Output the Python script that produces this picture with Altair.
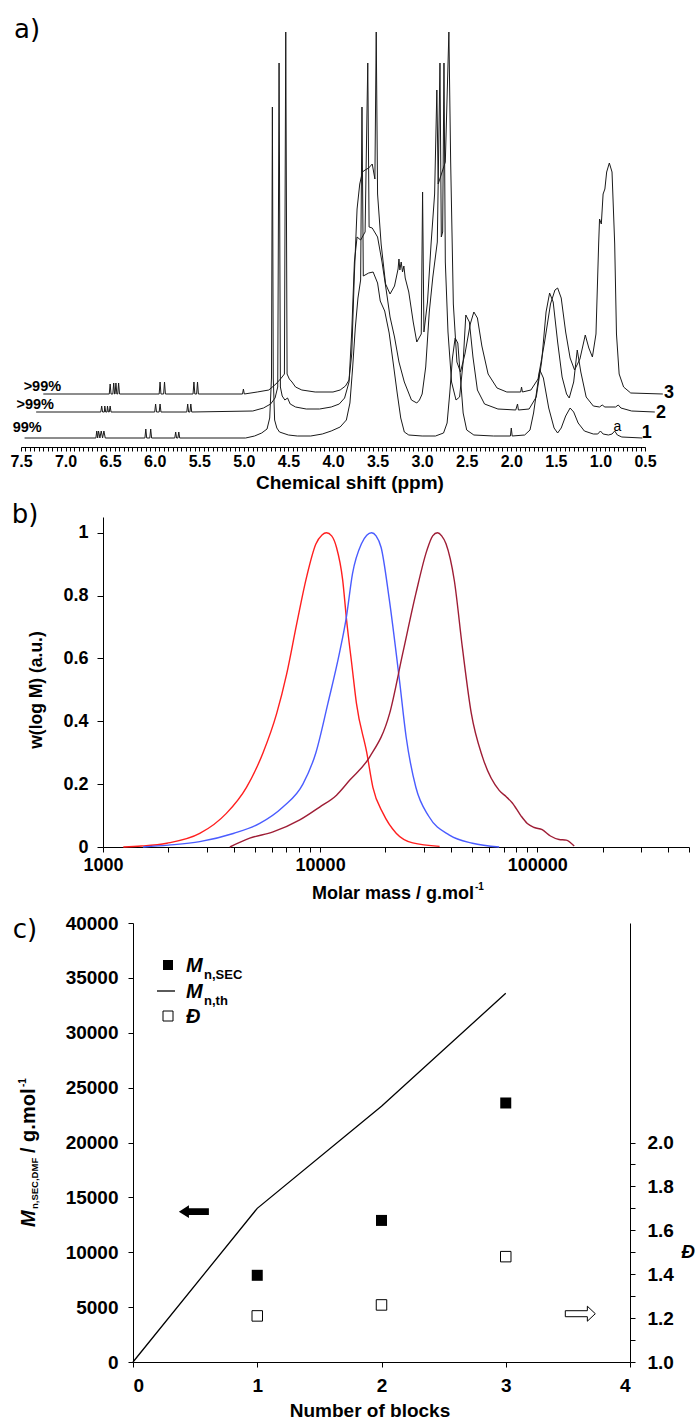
import altair as alt
import pandas as pd

FONT = "Liberation Sans"
FONT_W = "DejaVu Sans"

# ---------------- a) 1H NMR spectra (ppm, intensity above own baseline) ----------------
t1 = [(7.46,0),(6.66,0),(6.65,7),(6.64,0),(6.63,7),(6.615,0),(6.60,7),(6.585,0),(6.57,7),(6.555,0),
      (6.11,0),(6.10,9),(6.09,0),(6.055,0),(6.045,9),(6.035,0),
      (5.775,0),(5.765,6),(5.755,0),(5.74,0),(5.73,6),(5.72,0),
      (4.98,0),(4.88,2),(4.80,5),(4.74,9),(4.71,20),(4.69,60),(4.68,331),(4.67,60),(4.655,18),(4.63,10),
      (4.60,6),(4.50,3),(4.40,2),(4.25,2),(4.12,4),(4.02,7),(3.92,11),(3.85,18),(3.81,35),(3.78,70),
      (3.75,110),(3.72,140),(3.69,158),(3.675,331),(3.66,162),(3.60,165),(3.55,166),(3.50,155),
      (3.47,137),(3.42,127),(3.37,105),(3.32,72),(3.28,45),(3.24,20),(3.20,6),(3.15,3),
      (3.00,2),(2.85,2),(2.76,5),(2.72,15),(2.69,45),(2.66,80),(2.63,100),
      (2.60,95),(2.57,60),(2.54,25),(2.50,8),(2.42,3),(2.20,2),(2.01,2),(2.00,10),(1.99,2),(1.85,3),
      (1.79,8),(1.75,25),(1.71,50),(1.68,68),(1.64,60),(1.58,30),(1.52,10),(1.48,5),(1.44,10),(1.39,22),
      (1.34,30),(1.30,26),(1.25,15),(1.18,7),(1.08,4),(1.03,4),(1.00,7),(0.97,4),(0.91,3),(0.87,4),
      (0.84,7),(0.81,3),(0.76,1),(0.53,0)]
t2 = [(7.33,0),(6.605,0),(6.595,6),(6.585,0),(6.565,0),(6.56,6),(6.55,0),(6.535,0),(6.53,6),(6.52,0),
      (6.51,0),(6.50,6),(6.49,0),
      (6.00,0),(5.99,8),(5.98,0),(5.95,0),(5.94,8),(5.93,0),(5.64,0),(5.63,8),(5.62,0),(5.605,0),
      (5.595,8),(5.585,0),
      (4.90,1),(4.78,4),(4.70,8),(4.65,14),(4.62,25),(4.605,349),(4.59,25),(4.57,16),(4.54,12),(4.51,14),
      (4.48,8),(4.42,5),(4.30,3),(4.15,3),(4.02,5),(3.93,8),(3.87,14),(3.82,30),(3.79,80),(3.76,150),
      (3.73,175),(3.69,172),(3.64,180),(3.61,349),(3.595,185),(3.56,184),(3.50,175),(3.45,150),
      (3.40,120),(3.36,95),(3.31,75),(3.26,50),(3.20,30),(3.12,12),(3.06,9),(3.03,12),(3.00,18),
      (2.96,45),(2.92,100),(2.88,135),(2.83,170),(2.80,349),(2.785,175),(2.77,180),(2.755,349),
      (2.74,150),(2.71,80),(2.67,30),(2.62,12),(2.58,15),(2.54,50),(2.51,97),(2.47,90),(2.43,55),
      (2.38,22),(2.30,8),(2.15,3),(1.95,2),(1.93,8),(1.92,2),(1.80,3),(1.72,15),(1.66,50),(1.61,100),
      (1.57,119),(1.53,110),(1.48,70),(1.43,35),(1.38,18),(1.35,14),(1.30,30),(1.26,62),(1.22,40),
      (1.16,15),(1.08,6),(1.01,5),(0.98,7),(0.95,5),(0.83,5),(0.80,7),(0.77,4),(0.65,1),(0.39,0)]
t3 = [(7.25,0),(6.51,0),(6.50,10),(6.49,0),(6.47,0),(6.46,11),(6.45,0),(6.445,0),(6.435,11),(6.425,0),
      (6.415,0),(6.405,11),(6.395,0),
      (5.95,0),(5.94,12),(5.93,0),(5.90,0),(5.89,12),(5.88,0),(5.57,0),(5.56,12),(5.55,0),(5.53,0),
      (5.52,12),(5.51,0),(5.015,0),(5.005,5),(4.995,0),
      (4.85,2),(4.72,4),(4.64,10),(4.58,16),(4.545,20),(4.53,362),(4.515,20),(4.49,15),(4.46,12),
      (4.42,7),(4.35,4),(4.20,2),(4.00,2),(3.92,4),(3.86,8),(3.82,14),(3.79,40),(3.76,120),(3.73,185),
      (3.70,210),(3.67,222),(3.64,224),(3.60,226),(3.56,230),(3.53,215),(3.515,362),(3.50,200),
      (3.46,150),(3.41,110),(3.36,100),(3.31,108),(3.27,125),(3.26,135),(3.25,124),(3.235,132),
      (3.22,122),(3.205,128),(3.19,116),(3.15,102),(3.10,72),(3.06,52),(3.01,60),
      (2.995,202),(2.98,62),(2.94,92),(2.90,150),(2.86,200),(2.835,304),(2.82,210),(2.74,232),
      (2.70,362),(2.68,232),(2.65,90),(2.61,32),(2.57,22),(2.52,40),(2.46,70),(2.42,82),(2.38,76),
      (2.33,48),(2.26,20),(2.16,6),(2.05,2),(1.895,2),(1.885,7),(1.875,2),(1.78,4),(1.70,15),(1.63,50),
      (1.56,90),(1.51,104),(1.48,106),(1.44,96),(1.39,62),(1.34,36),(1.29,24),(1.23,35),(1.17,59),
      (1.13,46),(1.09,37),(1.05,60),(1.02,150),(1.01,175),(0.99,170),(0.97,200),(0.95,205),(0.93,222),
      (0.90,231),(0.87,222),(0.84,150),(0.82,60),(0.79,20),(0.74,7),(0.66,1),(0.30,0)]
trace_names = ["1", "2", "3"]
trace_offsets = [9, 35, 53]

conv_text = [">99%", ">99%", "99%"]
conv_ppm = [7.26, 7.34, 7.43]
conv_y = [60, 42, 19]
num_text = ["3", "2", "1"]
num_ppm = [0.23, 0.32, 0.48]
num_y = [54, 34, 14]
peak_text = ["a"]
peak_ppm = [0.81]
peak_y = [20]
ppm_ticks = [round(0.5 + 0.05 * i, 2) for i in range(141)]

# ---------------- b) SEC traces ----------------
red_M = [1240,1500,1970,2790,3700,4580,5460,6310,7010,7800,8650,9560,10200,10700,11300,11900,12700,13250,14000,
         14700,16400,17500,19500,22400,26700,35500]
red_w = [0,0.003,0.012,0.043,0.107,0.19,0.30,0.425,0.55,0.71,0.857,0.964,0.993,1.0,0.99,0.953,0.85,0.72,0.58,
         0.457,0.30,0.19,0.107,0.044,0.013,0.002]
blue_M = [1530,2000,2790,3980,5270,6760,8330,9560,10860,12300,13200,14100,15500,16400,17260,18100,19100,20800,
          23200,24900,27600,31700,39400,50300,66800]
blue_w = [0,0.006,0.017,0.043,0.075,0.128,0.20,0.30,0.457,0.62,0.73,0.87,0.965,0.992,1.0,0.99,0.953,0.79,0.53,
          0.35,0.19,0.097,0.038,0.012,0.0]
dred_M = [3840,4740,6070,8060,9950,11900,13700,16900,20900,24000,27600,31000,33000,34700,36300,38000,41500,45200,
          49700,56000,66800,72000,76800,84000,90000,97000,105400,115000,126000,136000,148000]
dred_w = [0,0.028,0.048,0.086,0.127,0.165,0.213,0.286,0.425,0.615,0.806,0.943,0.99,1.0,0.99,0.965,0.848,0.635,
          0.425,0.286,0.18,0.16,0.14,0.10,0.075,0.062,0.055,0.035,0.024,0.022,0.003]
sample_names = ["1 block", "2 blocks", "3 blocks"]
sample_colors = ["#ff1f1f", "#4a5cff", "#9e1d35"]
b_ticks = [m * 10 ** e for e in (3, 4) for m in range(1, 10)] + [100000, 200000, 300000, 400000, 500000]

# ---------------- c) Mn and dispersity vs number of blocks ----------------
blocks = [1, 2, 3]
mn_sec = [7900, 12900, 23600]
disp = [1.21, 1.26, 1.48]
blocks_th = [0, 1, 2, 3]
mn_th = [0, 14000, 23300, 33600]
arrowL = {"n": [0.49], "Mn": [13700]}
arrowR = {"n": [3.6], "D": [1.22]}
left_ticks = list(range(0, 40001, 5000))
right_ticks = [round(1 + 0.1 * i, 1) for i in range(11)]


def label(text, x, y, size, weight="bold", style="normal", angle=0, align="center",
          baseline="middle", font=FONT):
    return alt.Chart(pd.DataFrame({"t": [text]})).mark_text(
        font=font, fontSize=size, fontWeight=weight, fontStyle=style, angle=angle,
        align=align, baseline=baseline, color="black").encode(
        text="t:N", x=alt.value(x), y=alt.value(y))


# ----- panel a -----
rows = []
for name, pts, off in zip(trace_names, [t1, t2, t3], trace_offsets):
    for i, (p, h) in enumerate(pts):
        rows.append({"trace": name, "i": i, "ppm": p, "y": h + off})
df_a = pd.DataFrame(rows)

xa = alt.X("ppm:Q", scale=alt.Scale(domain=[0.5, 7.5], reverse=True, nice=False, zero=False),
           axis=alt.Axis(values=ppm_ticks, title=None, tickSize=4, labelPadding=2, labelFontSize=16,
                         labelFlush=False, labelOverlap=False,
                         labelExpr="abs(datum.value*2 - round(datum.value*2)) < 0.001 ? format(datum.value, '.1f') : ''"))
ya = alt.Y("y:Q", scale=alt.Scale(domain=[0, 415], nice=False, zero=False), axis=None)

spectra = alt.Chart(df_a).mark_line(color="#1a1a1a", strokeWidth=1, clip=False).encode(
    x=xa, y=ya, detail="trace:N", order="i:Q")
conv = alt.Chart(pd.DataFrame({"t": conv_text, "ppm": conv_ppm, "y": conv_y})).mark_text(
    font=FONT, fontSize=14.5, fontWeight="bold", color="black").encode(x=xa, y=ya, text="t:N")
nums = alt.Chart(pd.DataFrame({"t": num_text, "ppm": num_ppm, "y": num_y})).mark_text(
    font=FONT, fontSize=18, fontWeight="bold", color="black").encode(x=xa, y=ya, text="t:N")
peaklab = alt.Chart(pd.DataFrame({"t": peak_text, "ppm": peak_ppm, "y": peak_y})).mark_text(
    font=FONT, fontSize=14, color="black").encode(x=xa, y=ya, text="t:N")

panel_a = alt.layer(
    spectra, conv, nums, peaklab,
    label("a)", 6, -2, 26, weight="normal", font=FONT_W),
    label("Chemical shift (ppm)", 329, 451, 19),
).properties(width=624, height=415)

# ----- panel b -----
df_b = pd.concat([
    pd.DataFrame({"s": sample_names[0], "M": red_M, "w": red_w}),
    pd.DataFrame({"s": sample_names[1], "M": blue_M, "w": blue_w}),
    pd.DataFrame({"s": sample_names[2], "M": dred_M, "w": dred_w}),
])
xb = alt.X("M:Q", scale=alt.Scale(type="log", domain=[1000, 500000], range=[82, 668], nice=False),
           axis=alt.Axis(values=b_ticks, title=None, tickSize=5, labelPadding=4, labelFontSize=18,
                         labelFlush=False, labelOverlap=False,
                         labelExpr="indexof([1000, 10000, 100000], datum.value) >= 0 ? format(datum.value, 'd') : ''"))
yb = alt.Y("w:Q", scale=alt.Scale(domain=[0, 1.05], nice=False),
           axis=alt.Axis(values=[0, 0.2, 0.4, 0.6, 0.8, 1], format="~g", offset=-82, title=None,
                         tickSize=6, labelPadding=9, labelFontSize=18))
curves = alt.Chart(df_b).mark_line(strokeWidth=1.4, interpolate="monotone").encode(
    x=xb, y=yb,
    color=alt.Color("s:N", scale=alt.Scale(domain=sample_names, range=sample_colors), legend=None))
panel_b = alt.layer(
    curves,
    label("b)", 4, -2, 26, weight="normal", font=FONT_W),
    label("w(log M) (a.u.)", 16, 173, 17.5, angle=270),
    label("Molar mass / g.mol", 453, 377, 18, align="right"),
    label("-1", 454, 370, 10, align="left"),
).properties(width=668, height=330)

# ----- panel c -----
xc = alt.X("n:Q", scale=alt.Scale(domain=[0, 4], range=[112, 609], nice=False),
           axis=alt.Axis(values=[0, 1, 2, 3, 4], format="d", title=None, tickSize=5, labelPadding=9,
                         labelFontSize=19))
yl = alt.Y("Mn:Q", scale=alt.Scale(domain=[0, 40000], range=[445, 6], nice=False),
           axis=alt.Axis(values=left_ticks, format="d", offset=-112, title=None, tickSize=5,
                         labelPadding=10, labelFontSize=19))
yr = alt.Y("D:Q", scale=alt.Scale(domain=[1, 3], range=[445, 6], nice=False),
           axis=alt.Axis(orient="right", values=right_ticks, title=None, tickSize=5, labelPadding=12,
                         labelFontSize=19,
                         labelExpr="abs(datum.value*5 - round(datum.value*5)) < 0.001 ? format(datum.value, '.1f') : ''"))

path_left = "M -1 0 L -0.33 -0.42 L -0.33 -0.22 L 1 -0.22 L 1 0.22 L -0.33 0.22 L -0.33 0.42 Z"
path_right = "M 1 0 L 0.47 -0.5 L 0.47 -0.2 L -1 -0.2 L -1 0.2 L 0.47 0.2 L 0.47 0.5 Z"

th_line = alt.Chart(pd.DataFrame({"n": blocks_th, "Mn": mn_th})).mark_line(
    color="black", strokeWidth=1.3).encode(x=xc, y=yl)
sec_pts = alt.Chart(pd.DataFrame({"n": blocks, "Mn": mn_sec})).mark_point(
    shape="square", filled=True, size=121, color="black", opacity=1).encode(x=xc, y=yl)
arr_l = alt.Chart(pd.DataFrame(arrowL)).mark_point(
    shape=path_left, filled=True, size=900, color="black", opacity=1).encode(x=xc, y=yl)

leg_sq = alt.Chart(pd.DataFrame({"t": ["x"]})).mark_point(
    shape="square", filled=True, size=100, color="black", opacity=1).encode(x=alt.value(147), y=alt.value(48))
leg_line = alt.Chart(pd.DataFrame({"t": ["x"]})).mark_rule(color="black", strokeWidth=1.3).encode(
    x=alt.value(136), x2=alt.value(154), y=alt.value(74))
leg_open = alt.Chart(pd.DataFrame({"t": ["x"]})).mark_point(
    shape="square", size=100, fill="white", stroke="black", strokeWidth=1, fillOpacity=1,
    strokeOpacity=1).encode(x=alt.value(147), y=alt.value(99))

c_left = alt.layer(
    th_line, sec_pts, arr_l, leg_sq, leg_line, leg_open,
    label("M", 165, 54.5, 20, style="italic", align="left", baseline="alphabetic"),
    label("n,SEC", 183, 62, 13, align="left", baseline="alphabetic"),
    label("M", 165, 80.5, 20, style="italic", align="left", baseline="alphabetic"),
    label("n,th", 183, 88, 13, align="left", baseline="alphabetic"),
    label("Đ", 165, 105.5, 20, style="italic", align="left", baseline="alphabetic"),
    label("c)", 4, 13, 26, weight="normal", font=FONT_W),
    label("M", 8, 310, 20, style="italic", angle=270, align="left"),
    label("n,SEC,DMF", 14, 292, 9.5, angle=270, align="left"),
    label("/ g.mol", 8, 236, 20, angle=270, align="left"),
    label("-1", 2, 170, 10, angle=270, align="left"),
    label("Đ", 667, 335, 19, style="italic"),
    label("Number of blocks", 349, 494, 19),
)
disp_pts = alt.Chart(pd.DataFrame({"n": blocks, "D": disp})).mark_point(
    shape="square", size=110, fill="white", stroke="black", strokeWidth=1, fillOpacity=1,
    strokeOpacity=1).encode(x=xc, y=yr)
arr_r = alt.Chart(pd.DataFrame(arrowR)).mark_point(
    shape=path_right, size=900, fill="white", stroke="black", strokeWidth=1, fillOpacity=1,
    strokeOpacity=1).encode(x=xc, y=yr)
c_right = alt.layer(disp_pts, arr_r)

panel_c = alt.layer(c_left, c_right).resolve_scale(y="independent").properties(width=609, height=445)

chart = alt.vconcat(panel_a, panel_b, panel_c, spacing=70, bounds="flush").properties(
    padding={"left": 9, "top": 17, "right": 0, "bottom": 0},
    background="white",
).configure_view(stroke=None).configure_axis(
    domainColor="black", tickColor="black", labelColor="black", labelFont=FONT,
    labelFontWeight="bold", grid=False, domainWidth=1, tickWidth=1)

chart.save("out.html", embed_options={"renderer": "svg", "actions": False})
